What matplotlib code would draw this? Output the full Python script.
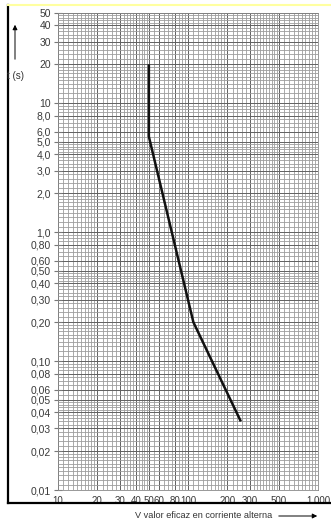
import numpy as np
import matplotlib
matplotlib.use("Agg")
import matplotlib.pyplot as plt
from matplotlib.ticker import FixedLocator, NullFormatter

# data
curve_v = [50, 50, 110, 255]
curve_t = [20, 5.5, 0.2, 0.034]
xticks = [10, 20, 30, 40, 50, 60, 80, 100, 200, 300, 500, 1000]
xticklabels = ["10", "20", "30", "40", "50", "60", "80", "100", "200", "300", "500", "1.000"]
yticks = [50, 40, 30, 20, 10, 8, 6, 5, 4, 3, 2, 1, 0.8, 0.6, 0.5, 0.4, 0.3, 0.2,
          0.1, 0.08, 0.06, 0.05, 0.04, 0.03, 0.02, 0.01]
yticklabels = ["50", "40", "30", "20", "10", "8,0", "6,0", "5,0", "4,0", "3,0", "2,0",
               "1,0", "0,80", "0,60", "0,50", "0,40", "0,30", "0,20",
               "0,10", "0,08", "0,06", "0,05", "0,04", "0,03", "0,02", "0,01"]

plt.rcParams['font.family'] = ['Liberation Sans', 'DejaVu Sans']

fig = plt.figure(figsize=(3.31, 5.24), dpi=100)
ax = fig.add_axes([58/331, 1-490/524, 260/331, 477/524])
ax.set_xscale('log')
ax.set_yscale('log')
ax.set_xlim(10, 1000)
ax.set_ylim(0.01, 50)

subs = np.concatenate([np.arange(1, 2, 0.1), np.arange(2, 5, 0.2), np.arange(5, 10, 0.5)])
def minor_vals(lo, hi):
    vals = []
    for d in range(lo, hi):
        for s in subs:
            vals.append(s * 10.0**d)
    return vals

ax.xaxis.set_minor_locator(FixedLocator(minor_vals(1, 3)))
ax.yaxis.set_minor_locator(FixedLocator(minor_vals(-2, 2)))
ax.xaxis.set_minor_formatter(NullFormatter())
ax.yaxis.set_minor_formatter(NullFormatter())
ax.set_xticks(xticks)
ax.set_xticklabels(xticklabels)
ax.set_yticks(yticks)
ax.set_yticklabels(yticklabels)

ax.grid(True, which='minor', color='#9c9c9c', lw=0.6)
ax.grid(True, which='major', color='#606060', lw=0.7)
ax.tick_params(which='minor', length=0)
ax.tick_params(which='major', axis='y', length=6, direction='inout', color='#777777',
               labelsize=7.5, labelcolor='#3a3a3a', pad=2)
ax.tick_params(which='major', axis='x', length=0, labelsize=7, labelcolor='#3a3a3a', pad=4)
for s in ax.spines.values():
    s.set_color('#888888')
    s.set_linewidth(0.6)
ax.set_axisbelow(True)

ax.plot(curve_v, curve_t, color='#111111', lw=1.8, solid_capstyle='butt', zorder=5)

# frame lines
fig.add_artist(plt.Line2D([8/331, 8/331], [1-503/524, 1-5/524], color='black', lw=1.6, transform=fig.transFigure))
fig.add_artist(plt.Line2D([8/331, 1.0], [1-503/524, 1-503/524], color='black', lw=1.6, transform=fig.transFigure))
fig.add_artist(plt.Line2D([8/331, 1.0], [1-5/524, 1-5/524], color='#ffffa0', lw=1.5, transform=fig.transFigure))

# y label and arrow
fig.text(7/331, 1-76/524, "t (s)", fontsize=7, color='#333333', ha='left', va='center')
fig.add_artist(matplotlib.patches.FancyArrowPatch((15/331, 1-62/524), (15/331, 1-22/524),
               transform=fig.transFigure, arrowstyle='-|>', mutation_scale=7, color='black', lw=0.7))
# x label and arrow
fig.text(204/331, 1-516/524, "V valor eficaz en corriente alterna", fontsize=6.6,
         color='#333333', ha='center', va='center')
fig.add_artist(matplotlib.patches.FancyArrowPatch((276/331, 1-516/524), (320/331, 1-516/524),
               transform=fig.transFigure, arrowstyle='-|>', mutation_scale=7, color='black', lw=0.7))

fig.savefig("out.png", dpi=100)
